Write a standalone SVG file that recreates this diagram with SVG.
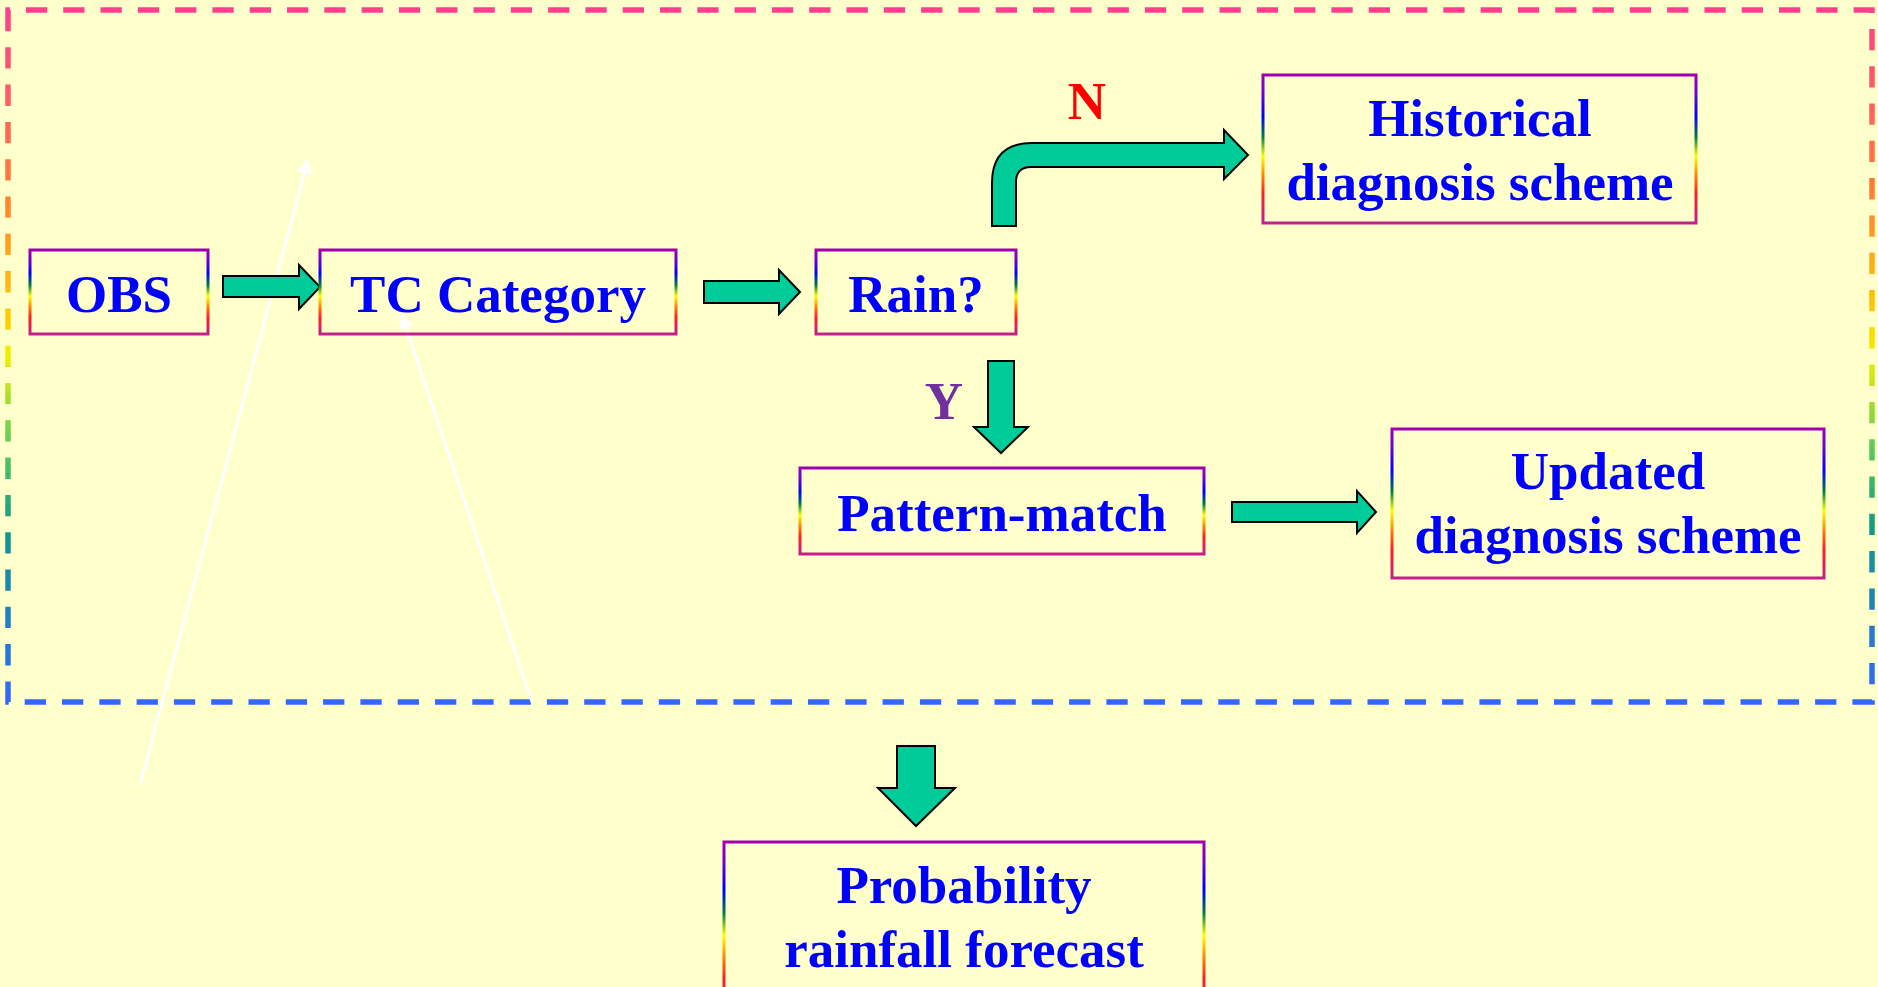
<svg xmlns="http://www.w3.org/2000/svg" width="1878" height="987" viewBox="0 0 1878 987">
<defs>
<linearGradient id="frameGrad" gradientUnits="userSpaceOnUse" x1="0" y1="10" x2="0" y2="702">
<stop offset="0" stop-color="#FF3F8E"/>
<stop offset="0.25" stop-color="#FF7A3A"/>
<stop offset="0.45" stop-color="#FFD000"/>
<stop offset="0.5" stop-color="#F0F000"/>
<stop offset="0.62" stop-color="#66CC55"/>
<stop offset="0.75" stop-color="#109988"/>
<stop offset="1" stop-color="#3366FF"/>
</linearGradient>
<linearGradient id="boxGrad" x1="0" y1="0" x2="0" y2="1">
<stop offset="0" stop-color="#A000B0"/>
<stop offset="0.12" stop-color="#7000D0"/>
<stop offset="0.28" stop-color="#0000FF"/>
<stop offset="0.42" stop-color="#008040"/>
<stop offset="0.55" stop-color="#FFFF00"/>
<stop offset="0.68" stop-color="#FF8000"/>
<stop offset="0.8" stop-color="#FF2020"/>
<stop offset="1" stop-color="#C02090"/>
</linearGradient>
<marker id="whiteHead" viewBox="0 0 10 10" refX="9" refY="5" markerWidth="5" markerHeight="5" orient="auto" markerUnits="strokeWidth">
<path d="M0,0 L10,5 L0,10 Z" fill="#FFFFFF"/>
</marker>
<style>
.box { fill: none; stroke: url(#boxGrad); stroke-width: 3; }
.lbl { font-family: "Liberation Serif", "Times New Roman", serif; font-weight: bold; font-size: 53px; fill: #0000FF; text-anchor: middle; }
.arrow { fill: #00CC99; stroke: #000000; stroke-width: 2; stroke-linejoin: miter; }
.wline { stroke: #FFFFFF; stroke-width: 3; fill: none; marker-end: url(#whiteHead); }
</style>
</defs>
<rect x="0" y="0" width="1878" height="987" fill="#FFFFCC"/>
<path id="frame" d="M8,10 L8,702 L1872,702 L1872,10 Z" fill="none" stroke="url(#frameGrad)" stroke-width="5.5" stroke-dasharray="21.3 16"/>

<g id="white-lines">
<line class="wline" x1="140" y1="785" x2="308" y2="160"/>
<line class="wline" x1="532" y1="702" x2="402" y2="315"/>
</g>

<g id="connectors">
<path class="arrow" d="M223,276 L299,276 L299,265 L320,287 L299,309 L299,297 L223,297 Z"/>
<path class="arrow" d="M704,281 L779,281 L779,270 L800,292 L779,314 L779,303 L704,303 Z"/>
<path class="arrow" d="M992,226 L992,183 Q992,143 1032,143 L1224,143 L1224,130 L1248,155 L1224,179 L1224,167 L1031,167 Q1016,167 1016,182 L1016,226 Z"/>
<path class="arrow" d="M988,361 L1014,361 L1014,427 L1028,427 L1001,453 L974,427 L988,427 Z"/>
<path class="arrow" d="M1232,502 L1357,502 L1357,491 L1376,512 L1357,533 L1357,522 L1232,522 Z"/>
<path class="arrow" d="M897,746 L935,746 L935,788 L955,788 L916,826 L878,788 L897,788 Z"/>
<text x="1087" y="119" class="lbl" style="fill:#FF0000">N</text>
<text x="944" y="419" class="lbl" style="fill:#7030A0">Y</text>
</g>

<g id="node-obs">
<rect class="box" x="30" y="250" width="178" height="84"/>
<text class="lbl" x="119" y="312">OBS</text>
</g>
<g id="node-tc">
<rect class="box" x="320" y="250" width="356" height="84"/>
<text class="lbl" x="498" y="312">TC Category</text>
</g>
<g id="node-rain">
<rect class="box" x="816" y="250" width="200" height="84"/>
<text class="lbl" x="916" y="312">Rain?</text>
</g>
<g id="node-historical">
<rect class="box" x="1263" y="75" width="433" height="148"/>
<text class="lbl" x="1480" y="136">Historical</text>
<text class="lbl" x="1480" y="200">diagnosis scheme</text>
</g>
<g id="node-pattern">
<rect class="box" x="800" y="468" width="404" height="86"/>
<text class="lbl" x="1002" y="531">Pattern-match</text>
</g>
<g id="node-updated">
<rect class="box" x="1392" y="429" width="432" height="149"/>
<text class="lbl" x="1608" y="489">Updated</text>
<text class="lbl" x="1608" y="553">diagnosis scheme</text>
</g>
<g id="node-probability">
<rect class="box" x="724" y="842" width="480" height="170"/>
<text class="lbl" x="964" y="903">Probability</text>
<text class="lbl" x="964" y="967">rainfall forecast</text>
</g>
</svg>
